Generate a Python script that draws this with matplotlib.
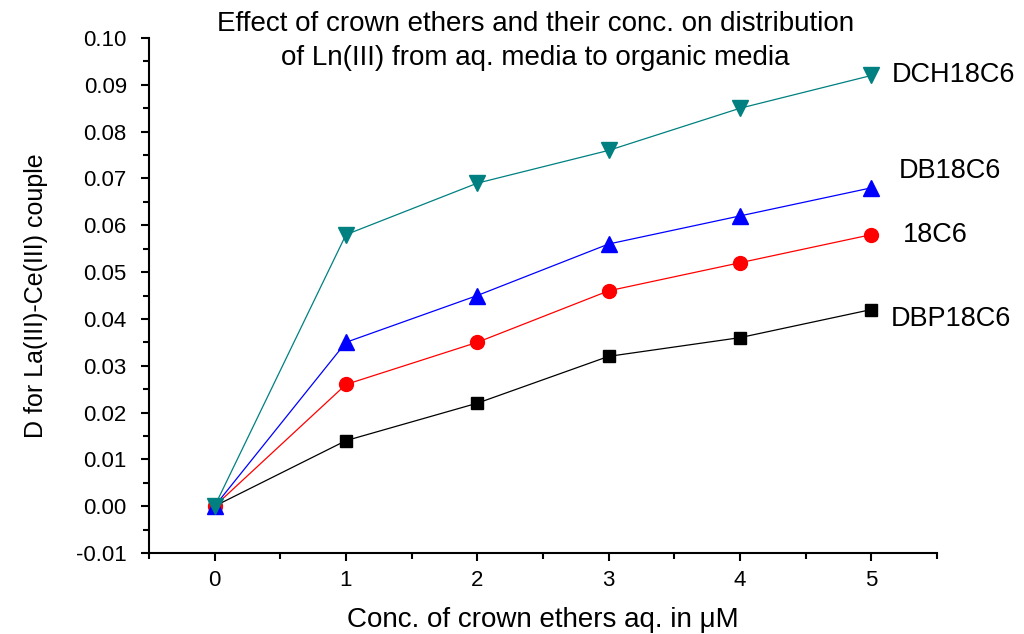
import matplotlib.pyplot as plt
from matplotlib.ticker import MultipleLocator, FormatStrFormatter

plt.rcParams["font.family"] = ["Liberation Sans", "DejaVu Sans"]

# ============================================================
# Data
# ============================================================
conc = [0, 1, 2, 3, 4, 5]
dbp18c6 = [0.000, 0.014, 0.022, 0.032, 0.036, 0.042]
c18c6 = [0.000, 0.026, 0.035, 0.046, 0.052, 0.058]
db18c6 = [0.000, 0.035, 0.045, 0.056, 0.062, 0.068]
dch18c6 = [0.000, 0.058, 0.069, 0.076, 0.085, 0.092]

series = [
    ("DBP18C6", dbp18c6, "black", "s", 9, (14, -7)),
    ("18C6", c18c6, "#ff0000", "o", 10, (23, 0)),
    ("DB18C6", db18c6, "#0000ff", "^", 11, (20, 12)),
    ("DCH18C6", dch18c6, "#008080", "v", 11, (15, 0)),
]

# ============================================================
# Plot
# ============================================================
fig = plt.figure(figsize=(10.24, 6.34), dpi=100)
ax = fig.add_axes([0.1455, 0.1278, 0.7695, 0.8122])

for name, vals, color, marker, ms, offset in series:
    ax.plot(conc, vals, color=color, marker=marker, markersize=ms,
            linewidth=0.9)
    ax.annotate(name, (conc[-1], vals[-1]), xytext=offset,
                textcoords="offset points", fontsize=19.5,
                ha="left", va="center")

ax.set_xlim(-0.5, 5.5)
ax.set_ylim(-0.01, 0.10)
ax.xaxis.set_major_locator(MultipleLocator(1))
ax.xaxis.set_minor_locator(MultipleLocator(0.5))
ax.yaxis.set_major_locator(MultipleLocator(0.01))
ax.yaxis.set_minor_locator(MultipleLocator(0.005))
ax.yaxis.set_major_formatter(FormatStrFormatter("%.2f"))

ax.spines["top"].set_visible(False)
ax.spines["right"].set_visible(False)
for s in ["left", "bottom"]:
    ax.spines[s].set_linewidth(1.5)
ax.tick_params(which="major", direction="out", length=6, width=1.5,
               labelsize=16)
ax.tick_params(axis="x", which="major", pad=6)
ax.tick_params(axis="y", which="major", pad=10)
ax.tick_params(which="minor", direction="out", length=4, width=1.5)

ax.set_xlabel("Conc. of crown ethers aq. in \u03bcM", fontsize=20, labelpad=12)
ax.set_ylabel("D for La(III)-Ce(III) couple", fontsize=18, labelpad=20)

ax.text(0.49, 1.052,
        "Effect of crown ethers and their conc. on distribution\n"
        "of Ln(III) from aq. media to organic media",
        transform=ax.transAxes, ha="center", va="top", fontsize=20,
        linespacing=1.4)

fig.savefig("out.png", dpi=100)
plt.close(fig)
